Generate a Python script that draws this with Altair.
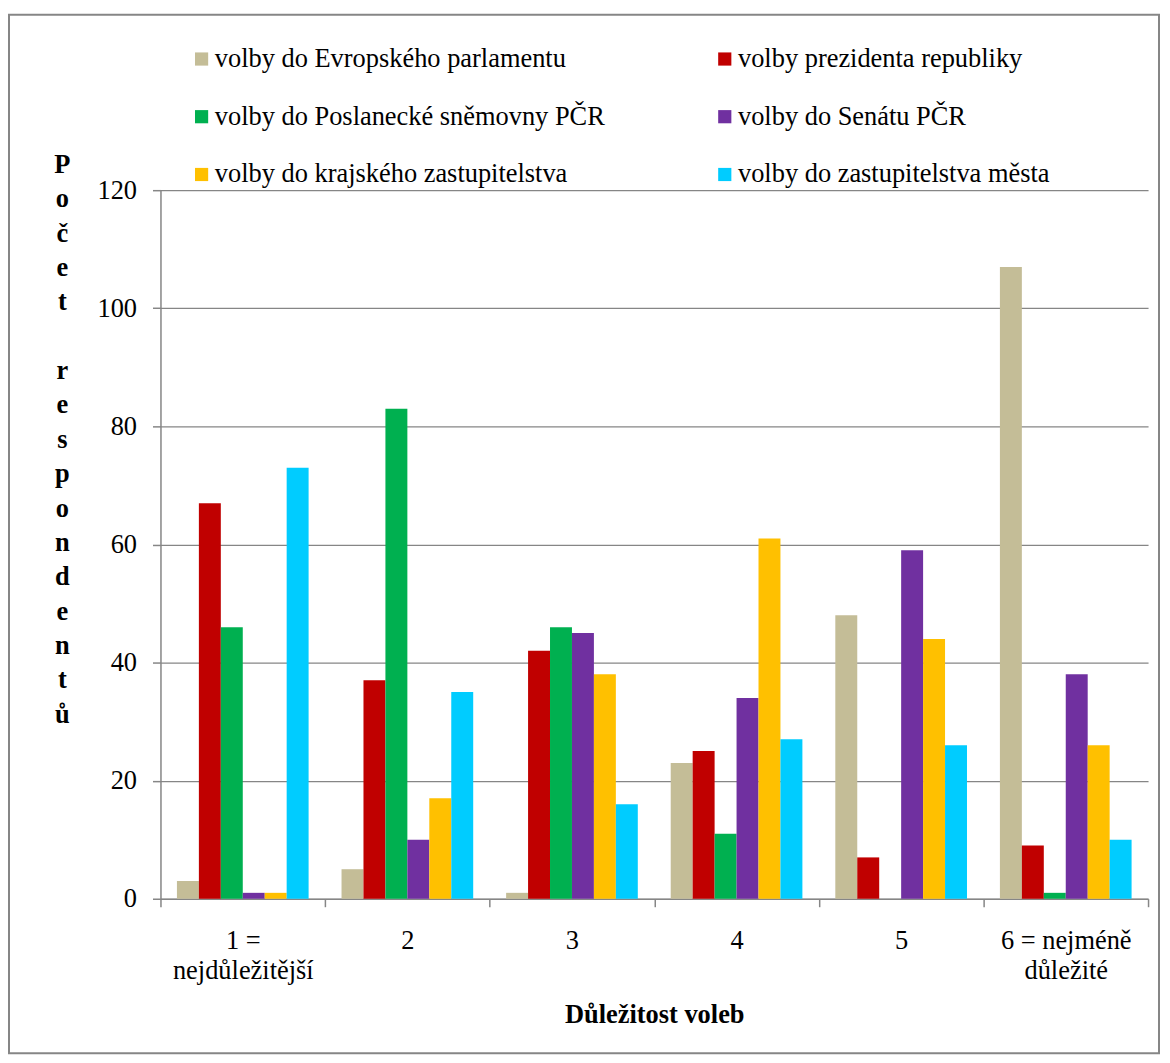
import altair as alt
import pandas as pd

# ---- data ----
categories = ["1 =\nnejdůležitější", "2", "3", "4", "5", "6 = nejméně\ndůležité"]
series = [
    "volby do Evropského parlamentu",
    "volby prezidenta republiky",
    "volby do Poslanecké sněmovny PČR",
    "volby do Senátu PČR",
    "volby do krajského zastupitelstva",
    "volby do zastupitelstva města",
]
colors = ["#C4BD97", "#C00000", "#00B050", "#7030A0", "#FFC000", "#00CCFF"]

ep = [3, 5, 1, 23, 48, 107]
prez = [67, 37, 42, 25, 7, 9]
ps = [46, 83, 46, 11, 0, 1]
senat = [1, 10, 45, 34, 59, 38]
kraj = [1, 17, 38, 61, 44, 26]
mesto = [73, 35, 16, 27, 26, 10]

y_ticks = [0, 20, 40, 60, 80, 100, 120]
# one letter per line, an empty line between the two words
y_title = list("Počet") + ["\u200b"] + list("respondentů")
x_title = "Důležitost voleb"

values = [ep, prez, ps, senat, kraj, mesto]
rows = []
for s, vals in zip(series, values):
    for c, v in zip(categories, vals):
        rows.append({"kat": c, "serie": s, "pocet": v})
df = pd.DataFrame(rows)

FONT = "Liberation Serif, Times New Roman, serif"
GRAY = "#868686"
FS = 26.5
W, H = 991, 711

bars = alt.Chart(df).mark_bar().encode(
    x=alt.X(
        "kat:N",
        sort=categories,
        scale=alt.Scale(paddingInner=0, paddingOuter=0),
        axis=alt.Axis(
            title=x_title,
            tickBand="extent",
            labelAngle=0,
            labelExpr="split(datum.label, '\\n')",
            labelLineHeight=30,
            labelPadding=21,
            tickSize=8,
            grid=False,
            titleFontWeight="bold",
            titleBaseline="middle",
            titleY=116,
        ),
    ),
    xOffset=alt.XOffset(
        "serie:N", sort=series, scale=alt.Scale(paddingInner=0, paddingOuter=0.75)
    ),
    y=alt.Y(
        "pocet:Q",
        scale=alt.Scale(domain=[0, 120]),
        axis=alt.Axis(
            values=y_ticks,
            title=y_title,
            titleAngle=0,
            titleAlign="center",
            titleBaseline="middle",
            titleFontWeight="bold",
            titleLineHeight=34.5,
            titleX=-99,
            titleY=-26,
            tickSize=8,
            labelPadding=16,
            grid=True,
        ),
    ),
    color=alt.Color(
        "serie:N",
        sort=series,
        scale=alt.Scale(domain=series, range=colors),
        legend=alt.Legend(
            orient="none",
            legendX=28,
            legendY=-145,
            columns=2,
            direction="horizontal",
            title=None,
            symbolType="square",
            symbolSize=175,
            symbolStrokeWidth=0,
            labelFont=FONT,
            labelFontSize=FS,
            labelColor="black",
            labelOffset=0,
            labelLimit=800,
            rowPadding=31,
            columnPadding=106,
        ),
    ),
)

border = alt.Chart(pd.DataFrame({"r": [0]})).mark_rect(
    fill="transparent", stroke=GRAY, strokeWidth=2
).encode(
    x=alt.value(-152), x2=alt.value(1002), y=alt.value(-176), y2=alt.value(866)
)

chart = alt.layer(border, bars).properties(
    width=W,
    height=H,
    autosize=alt.AutoSizeParams(type="none"),
    padding={"left": 153, "top": 181, "right": 14, "bottom": 160},
).configure_view(stroke=None).configure_axis(
    labelFont=FONT,
    labelFontSize=FS,
    labelColor="black",
    titleFont=FONT,
    titleFontSize=FS,
    titleColor="black",
    domainColor=GRAY,
    domainWidth=1.5,
    tickColor=GRAY,
    tickWidth=1.5,
    gridColor=GRAY,
    gridWidth=1.2,
)

chart.save("out.html", embed_options={"renderer": "svg", "actions": False})
